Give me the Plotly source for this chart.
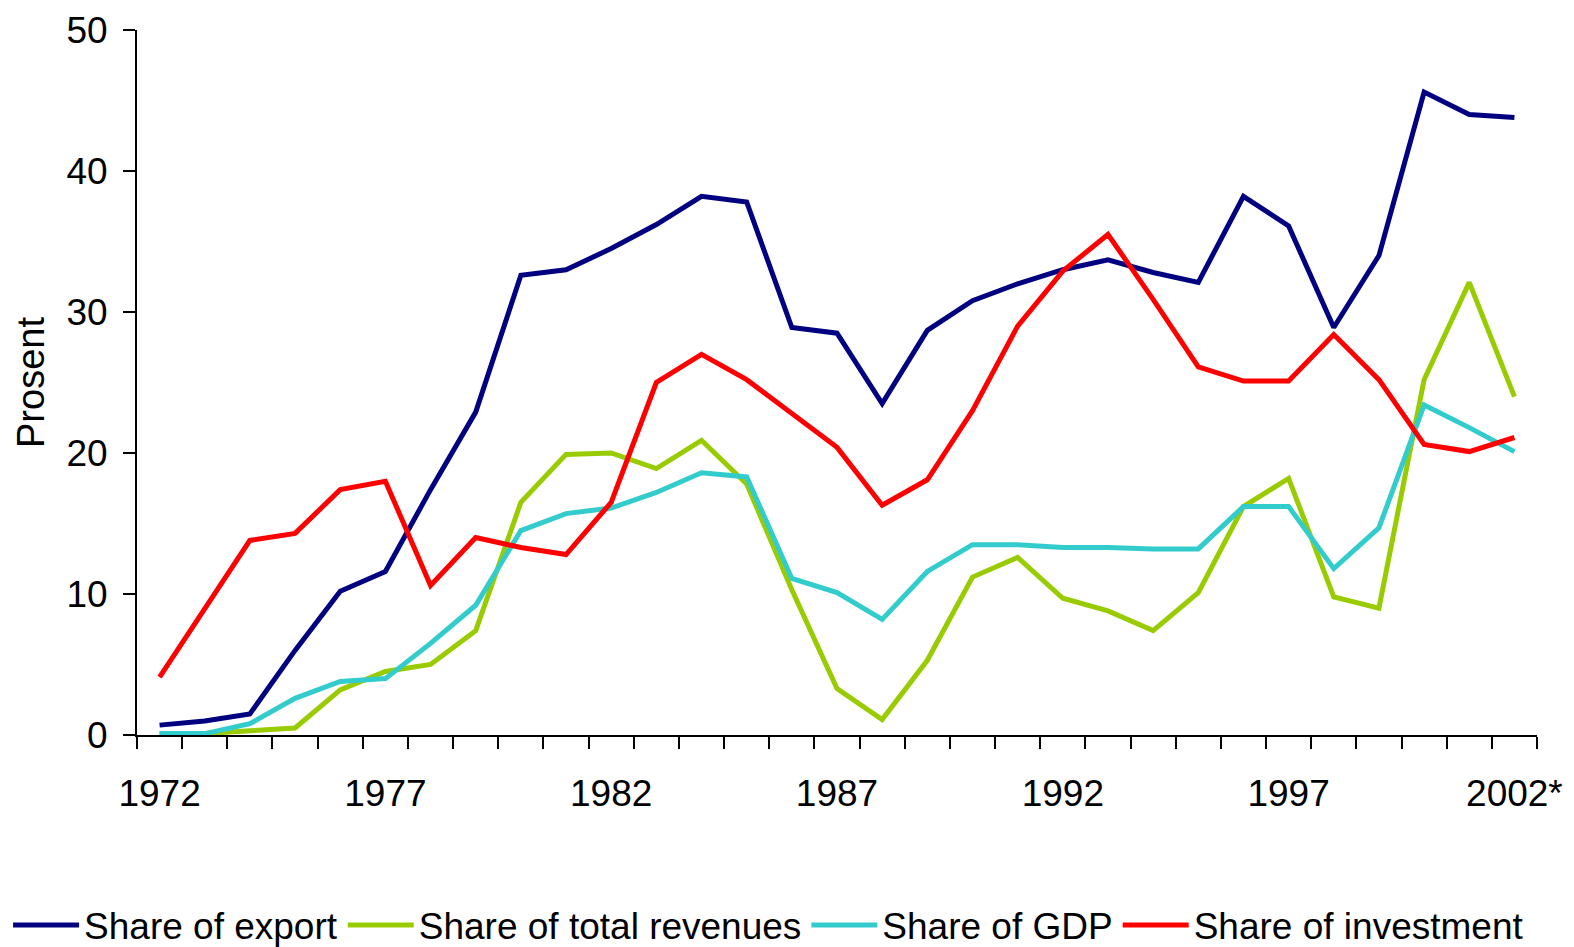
import plotly.graph_objects as go

years = list(range(1972, 2003))
tick_years = [1972, 1977, 1982, 1987, 1992, 1997, 2002]
tick_labels = ["1972", "1977", "1982", "1987", "1992", "1997", "2002*"]

share_export = [0.7, 1.0, 1.5, 6.0, 10.2, 11.6, 17.4, 22.9, 32.6, 33.0, 34.5, 36.2, 38.2, 37.8, 28.9, 28.5,
                23.5, 28.7, 30.8, 32.0, 33.0, 33.7, 32.8, 32.1, 38.2, 36.1, 28.9, 34.0, 45.6, 44.0, 43.8]
share_revenues = [0.1, 0.1, 0.3, 0.5, 3.2, 4.5, 5.0, 7.4, 16.5, 19.9, 20.0, 18.9, 20.9, 17.8, 10.3, 3.3,
                  1.1, 5.3, 11.2, 12.6, 9.7, 8.8, 7.4, 10.1, 16.2, 18.2, 9.8, 9.0, 25.2, 32.1, 24.0]
share_gdp = [0.1, 0.1, 0.8, 2.6, 3.8, 4.0, 6.5, 9.2, 14.5, 15.7, 16.1, 17.2, 18.6, 18.3, 11.1, 10.1,
             8.2, 11.6, 13.5, 13.5, 13.3, 13.3, 13.2, 13.2, 16.2, 16.2, 11.8, 14.7, 23.4, 21.8, 20.1]
share_investment = [4.1, 8.9, 13.8, 14.3, 17.4, 18.0, 10.6, 14.0, 13.3, 12.8, 16.5, 25.0, 27.0, 25.2, 22.8, 20.4,
                    16.3, 18.1, 23.0, 29.0, 32.9, 35.5, 30.9, 26.1, 25.1, 25.1, 28.4, 25.2, 20.6, 20.1, 21.1]

series = [
    ("Share of export", share_export, "#000080"),
    ("Share of total revenues", share_revenues, "#99CC00"),
    ("Share of GDP", share_gdp, "#33CCCC"),
    ("Share of investment", share_investment, "#FF0000"),
]

fig = go.Figure()
for name, values, color in series:
    fig.add_trace(go.Scatter(x=years, y=values, mode="lines", name=name,
                             line=dict(color=color, width=5)))

font = "Liberation Sans, Arial, sans-serif"

fig.update_xaxes(
    range=[1971.5, 2002.5],
    tickvals=tick_years,
    ticktext=tick_labels,
    ticks="",
    ticklabelstandoff=25,
    showline=True, linecolor="black", linewidth=2,
    showgrid=False, zeroline=False, automargin=False,
    tickfont=dict(size=37, color="black"),
    minor=dict(tick0=1971.5, dtick=1, ticks="outside", ticklen=12, tickwidth=2, tickcolor="black"),
)
fig.update_yaxes(
    range=[0, 50],
    dtick=10,
    ticks="outside", ticklen=12, tickwidth=2, tickcolor="black",
    ticklabelstandoff=8,
    showline=True, linecolor="black", linewidth=2,
    showgrid=False, zeroline=False, automargin=False,
    tickfont=dict(size=37, color="black"),
    title=dict(text="Prosent", font=dict(size=38, color="black"), standoff=10),
)

# the page body adds 8px around the figure, so the figure is 8px smaller
fig.update_layout(
    width=1566, height=939,
    margin=dict(l=129, r=37, t=22, b=212, autoexpand=False),
    paper_bgcolor="white", plot_bgcolor="white",
    font=dict(family=font, color="black"),
    legend=dict(orientation="h", x=-0.0921, xanchor="left", y=-0.27, yanchor="middle",
                font=dict(size=37), itemwidth=66, tracegroupgap=0),
    showlegend=True,
)

fig.write_html("out.html")
